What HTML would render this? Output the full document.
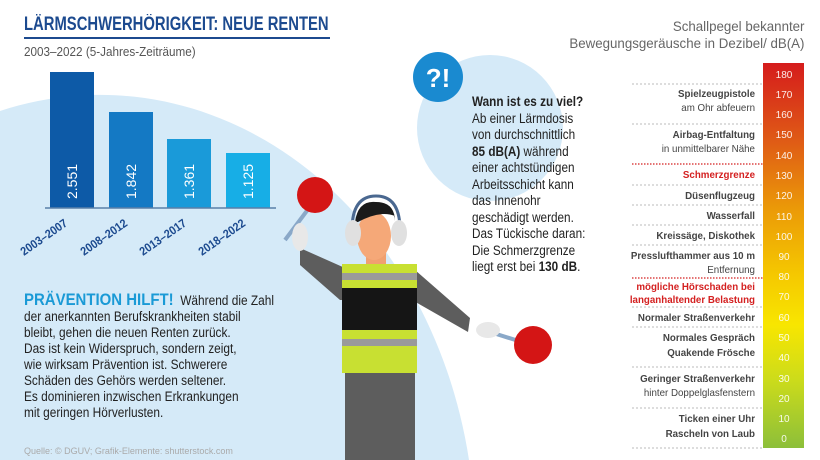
<!DOCTYPE html>
<html style="overflow:hidden;height:460px"><head><meta charset="utf-8"><style>
body{margin:0;width:820px;height:460px;overflow:hidden;background:#fff;font-family:"Liberation Sans",sans-serif;position:relative}
.a{position:absolute;white-space:nowrap;transform-origin:0 0}
svg{display:block}
</style></head><body>
<svg width="820" height="460" style="position:absolute;left:0;top:0">
<defs>
<linearGradient id="g" x1="0" y1="0" x2="0" y2="1">
<stop offset="0" stop-color="#d51c1c"/><stop offset="0.2" stop-color="#df5a16"/>
<stop offset="0.38" stop-color="#eb9a08"/><stop offset="0.55" stop-color="#f5c800"/>
<stop offset="0.68" stop-color="#f8e600"/><stop offset="0.82" stop-color="#cddc1a"/>
<stop offset="1" stop-color="#8cbf3a"/></linearGradient>
</defs>
<path d="M0 460 L0 111 A375 445 0 0 1 469 460 Z" fill="#d5eaf8"/>
<circle cx="490" cy="128" r="73" fill="#d5eaf8"/>
<rect x="50" y="72" width="44" height="136" fill="#0d5aa7"/>
<rect x="109" y="112" width="44" height="96" fill="#1479c4"/>
<rect x="167" y="139" width="44" height="69" fill="#1a9ad9"/>
<rect x="226" y="153" width="44" height="55" fill="#17aee6"/>
<line x1="45" y1="208" x2="276" y2="208" stroke="#5a7fa8" stroke-width="1.5"/>
<g fill="#fff" font-size="14" font-family="Liberation Sans">
<text transform="translate(77,199) rotate(-90)">2.551</text>
<text transform="translate(136,199) rotate(-90)">1.842</text>
<text transform="translate(194,199) rotate(-90)">1.361</text>
<text transform="translate(253,199) rotate(-90)">1.125</text>
</g>
<g fill="#1c4a8f" font-size="12" font-weight="bold" font-family="Liberation Sans">
<text transform="translate(24,256) rotate(-35) scale(0.9,1)">2003–2007</text>
<text transform="translate(84,256) rotate(-35) scale(0.9,1)">2008–2012</text>
<text transform="translate(143,256) rotate(-35) scale(0.9,1)">2013–2017</text>
<text transform="translate(202,256) rotate(-35) scale(0.9,1)">2018–2022</text>
</g>
<circle cx="438" cy="77" r="25" fill="#1a8ad0"/>
<text x="438" y="87" fill="#fff" font-size="26" font-weight="bold" text-anchor="middle" font-family="Liberation Sans">?!</text>
<line x1="315" y1="200" x2="285" y2="240" stroke="#8aa8c8" stroke-width="4"/>
<circle cx="315" cy="195" r="18" fill="#d41515"/>
<path d="M300 248 L345 268 L350 300 L340 300 L300 265 Z" fill="#5d5d5d"/>
<ellipse cx="300" cy="237" rx="8" ry="14" fill="#e8e8e8"/>
<path d="M415 270 L470 318 L468 332 L412 300 Z" fill="#5d5d5d"/>
<line x1="490" y1="332" x2="525" y2="343" stroke="#8aa8c8" stroke-width="4"/>
<ellipse cx="488" cy="330" rx="12" ry="8" fill="#e8e8e8"/>
<circle cx="533" cy="345" r="19" fill="#d41515"/>
<rect x="345" y="372" width="70" height="88" fill="#5d5d5d"/>
<rect x="366" y="250" width="20" height="20" fill="#f0a070"/>
<ellipse cx="374" cy="236" rx="17" ry="24" fill="#f5a878"/>
<path d="M355 222 Q358 200 376 202 Q396 202 395 224 L395 216 Q380 210 358 222Z" fill="#1a1a1a"/>
<path d="M352 230 Q352 196 376 196 Q400 196 400 230" fill="none" stroke="#4a6890" stroke-width="3"/>
<ellipse cx="353" cy="233" rx="8" ry="13" fill="#e0e0e0"/>
<ellipse cx="399" cy="233" rx="8" ry="13" fill="#e0e0e0"/>
<path d="M342 264 L417 264 L417 373 L342 373 Z" fill="#c8e032"/>
<rect x="342" y="273" width="75" height="7" fill="#9a9a9a"/>
<rect x="342" y="288" width="75" height="42" fill="#151515"/>
<rect x="342" y="339" width="75" height="7" fill="#9a9a9a"/>
<rect x="763" y="63" width="41" height="385" fill="url(#g)"/>
<g fill="#fff" font-size="10" text-anchor="middle" font-family="Liberation Sans" opacity="0.9">
<text x="784" y="78">180</text><text x="784" y="98">170</text><text x="784" y="118">160</text>
<text x="784" y="138">150</text><text x="784" y="159">140</text><text x="784" y="179">130</text>
<text x="784" y="199">120</text><text x="784" y="220">110</text><text x="784" y="240">100</text>
<text x="784" y="260">90</text><text x="784" y="280">80</text><text x="784" y="300">70</text>
<text x="784" y="321">60</text><text x="784" y="341">50</text><text x="784" y="361">40</text>
<text x="784" y="382">30</text><text x="784" y="402">20</text><text x="784" y="422">10</text>
<text x="784" y="442">0</text></g>
<g stroke="#bbb" stroke-dasharray="2,2" stroke-width="1">
<line x1="632" y1="84" x2="763" y2="84"/><line x1="632" y1="124" x2="763" y2="124"/>
<line x1="632" y1="185" x2="763" y2="185"/><line x1="632" y1="205" x2="763" y2="205"/>
<line x1="632" y1="225" x2="763" y2="225"/><line x1="632" y1="245" x2="763" y2="245"/>
<line x1="632" y1="307" x2="763" y2="307"/><line x1="632" y1="327" x2="763" y2="327"/>
<line x1="632" y1="367" x2="763" y2="367"/><line x1="632" y1="408" x2="763" y2="408"/>
<line x1="632" y1="448" x2="763" y2="448"/></g>
<g stroke="#d42020" stroke-dasharray="1.5,1.5" stroke-width="1.2">
<line x1="632" y1="164" x2="763" y2="164"/><line x1="632" y1="278" x2="763" y2="278"/></g>
<g font-size="10.5" text-anchor="end" fill="#444" font-family="Liberation Sans" transform="translate(755,0) scale(0.93,1) translate(-755,0)">
<text x="755" y="97" font-weight="bold">Spielzeugpistole</text><text x="755" y="111">am Ohr abfeuern</text>
<text x="755" y="138" font-weight="bold">Airbag-Entfaltung</text><text x="755" y="152">in unmittelbarer Nähe</text>
<text x="755" y="178" font-weight="bold" fill="#d42020">Schmerzgrenze</text>
<text x="755" y="199" font-weight="bold">Düsenflugzeug</text>
<text x="755" y="219" font-weight="bold">Wasserfall</text>
<text x="755" y="239" font-weight="bold">Kreissäge, Diskothek</text>
<text x="755" y="259" font-weight="bold">Presslufthammer aus 10 m</text><text x="755" y="273">Entfernung</text>
<text x="755" y="290" font-weight="bold" fill="#d42020">mögliche Hörschaden bei</text>
<text x="755" y="303" font-weight="bold" fill="#d42020">langanhaltender Belastung</text>
<text x="755" y="321" font-weight="bold">Normaler Straßenverkehr</text>
<text x="755" y="341" font-weight="bold">Normales Gespräch</text><text x="755" y="356" font-weight="bold">Quakende Frösche</text>
<text x="755" y="382" font-weight="bold">Geringer Straßenverkehr</text><text x="755" y="396">hinter Doppelglasfenstern</text>
<text x="755" y="422" font-weight="bold">Ticken einer Uhr</text><text x="755" y="437" font-weight="bold">Rascheln von Laub</text>
</g>
</svg>
<div class="a" style="left:24px;top:14px;font-size:19px;font-weight:bold;color:#1c4a8f;line-height:22px;transform:scaleX(0.78)">LÄRMSCHWERHÖRIGKEIT: NEUE RENTEN</div>
<div class="a" style="left:24px;top:37px;width:306px;height:2px;background:#1c4a8f"></div>
<div class="a" style="left:24px;top:44px;font-size:13px;color:#555;transform:scaleX(0.9)">2003–2022 (5-Jahres-Zeiträume)</div>
<div class="a" style="right:16px;top:18px;font-size:14px;color:#666;text-align:right;line-height:17px;transform-origin:100% 0;transform:scaleX(0.95)">Schallpegel bekannter<br>Bewegungsgeräusche in Dezibel/ dB(A)</div>
<div class="a" style="left:472px;top:94px;font-size:13.5px;color:#222;line-height:16.5px;transform:scaleX(0.87)"><b>Wann ist es zu viel?</b><br>Ab einer Lärmdosis<br>von durchschnittlich<br><b>85 dB(A)</b> während<br>einer achtstündigen<br>Arbeitsschicht kann<br>das Innenohr<br>geschädigt werden.<br>Das Tückische daran:<br>Die Schmerzgrenze<br>liegt erst bei <b>130 dB</b>.</div>
<div class="a" style="left:24px;top:292px;font-size:13.5px;color:#222;line-height:16px;transform:scaleX(0.88)"><b style="color:#1a9ad6;font-size:17px">PRÄVENTION HILFT!</b>&nbsp; Während die Zahl<br>der anerkannten Berufskrankheiten stabil<br>bleibt, gehen die neuen Renten zurück.<br>Das ist kein Widerspruch, sondern zeigt,<br>wie wirksam Prävention ist. Schwerere<br>Schäden des Gehörs werden seltener.<br>Es dominieren inzwischen Erkrankungen<br>mit geringen Hörverlusten.</div>
<div class="a" style="left:24px;top:446px;font-size:9px;line-height:11px;color:#aaa">Quelle: © DGUV; Grafik-Elemente: shutterstock.com</div>
</body></html>
